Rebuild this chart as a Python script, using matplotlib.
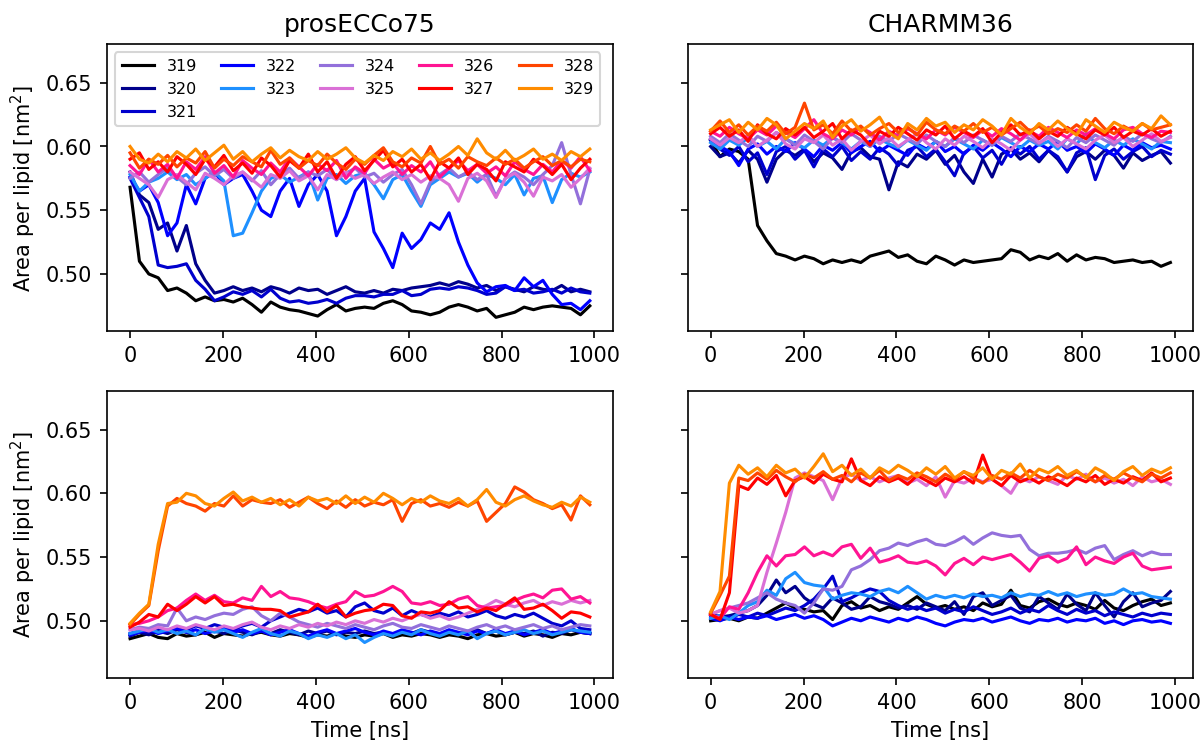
import matplotlib.pyplot as plt
import numpy as np

# time axis shared by all runs (ns)
time = np.linspace(0, 990, 50)

labels = ["319", "320", "321", "322", "323", "324", "325", "326", "327", "328", "329"]
colors = ["black", "darkblue", "mediumblue", "blue", "dodgerblue", "mediumpurple",
          "orchid", "deeppink", "red", "orangered", "darkorange"]

# prosECCo75, upper panel (one row per label)
pros_top = [
    [0.568, 0.510, 0.500, 0.497, 0.487, 0.489, 0.485, 0.479, 0.482, 0.479, 0.480, 0.478, 0.481, 0.476, 0.470, 0.478, 0.474, 0.472, 0.471, 0.469, 0.467, 0.472, 0.476, 0.471, 0.473, 0.474, 0.473, 0.477, 0.479, 0.476, 0.471, 0.470, 0.468, 0.470, 0.474, 0.476, 0.474, 0.471, 0.473, 0.466, 0.468, 0.470, 0.474, 0.472, 0.474, 0.475, 0.474, 0.473, 0.468, 0.475],
    [0.580, 0.562, 0.556, 0.535, 0.540, 0.518, 0.538, 0.508, 0.495, 0.485, 0.487, 0.490, 0.487, 0.489, 0.486, 0.490, 0.488, 0.485, 0.489, 0.487, 0.488, 0.484, 0.487, 0.490, 0.486, 0.485, 0.487, 0.485, 0.488, 0.487, 0.489, 0.490, 0.491, 0.493, 0.491, 0.494, 0.492, 0.489, 0.491, 0.487, 0.490, 0.488, 0.486, 0.490, 0.488, 0.487, 0.491, 0.486, 0.488, 0.486],
    [0.575, 0.560, 0.545, 0.507, 0.505, 0.506, 0.508, 0.495, 0.488, 0.479, 0.482, 0.486, 0.484, 0.487, 0.482, 0.488, 0.481, 0.478, 0.479, 0.477, 0.478, 0.480, 0.477, 0.481, 0.483, 0.483, 0.482, 0.484, 0.484, 0.487, 0.483, 0.484, 0.488, 0.489, 0.488, 0.490, 0.489, 0.487, 0.484, 0.485, 0.490, 0.487, 0.488, 0.485, 0.486, 0.488, 0.485, 0.489, 0.486, 0.485],
    [0.576, 0.565, 0.570, 0.556, 0.530, 0.540, 0.570, 0.555, 0.575, 0.580, 0.570, 0.575, 0.578, 0.565, 0.550, 0.545, 0.565, 0.575, 0.553, 0.570, 0.578, 0.565, 0.530, 0.545, 0.565, 0.575, 0.533, 0.520, 0.505, 0.532, 0.520, 0.527, 0.540, 0.535, 0.548, 0.525, 0.507, 0.493, 0.486, 0.490, 0.491, 0.487, 0.497, 0.490, 0.495, 0.484, 0.476, 0.477, 0.472, 0.479],
    [0.578, 0.565, 0.572, 0.575, 0.580, 0.574, 0.578, 0.570, 0.575, 0.580, 0.573, 0.530, 0.532, 0.548, 0.565, 0.575, 0.578, 0.572, 0.576, 0.580, 0.558, 0.575, 0.578, 0.571, 0.577, 0.579, 0.570, 0.559, 0.574, 0.578, 0.565, 0.553, 0.570, 0.575, 0.580, 0.576, 0.579, 0.572, 0.578, 0.575, 0.570, 0.578, 0.562, 0.575, 0.577, 0.556, 0.574, 0.579, 0.576, 0.580],
    [0.575, 0.580, 0.572, 0.578, 0.583, 0.576, 0.570, 0.579, 0.584, 0.577, 0.582, 0.575, 0.580, 0.573, 0.581, 0.570, 0.578, 0.583, 0.575, 0.580, 0.577, 0.582, 0.574, 0.579, 0.583, 0.576, 0.579, 0.572, 0.578, 0.582, 0.570, 0.555, 0.572, 0.578, 0.583, 0.576, 0.580, 0.574, 0.578, 0.561, 0.575, 0.580, 0.576, 0.570, 0.578, 0.585, 0.603, 0.578, 0.555, 0.582],
    [0.580, 0.575, 0.570, 0.560, 0.574, 0.578, 0.572, 0.566, 0.579, 0.575, 0.570, 0.577, 0.580, 0.574, 0.568, 0.578, 0.575, 0.581, 0.573, 0.577, 0.566, 0.578, 0.574, 0.580, 0.575, 0.578, 0.571, 0.576, 0.580, 0.574, 0.578, 0.572, 0.577, 0.575, 0.570, 0.557, 0.575, 0.579, 0.573, 0.560, 0.575, 0.579, 0.572, 0.561, 0.576, 0.573, 0.578, 0.568, 0.575, 0.583],
    [0.585, 0.578, 0.590, 0.580, 0.586, 0.575, 0.588, 0.582, 0.592, 0.579, 0.585, 0.576, 0.589, 0.583, 0.578, 0.587, 0.580, 0.591, 0.584, 0.577, 0.586, 0.581, 0.589, 0.575, 0.584, 0.579, 0.590, 0.583, 0.587, 0.578, 0.585, 0.580, 0.588, 0.576, 0.583, 0.589, 0.581, 0.586, 0.579, 0.584, 0.577, 0.588, 0.582, 0.578, 0.586, 0.580, 0.589, 0.583, 0.592, 0.581],
    [0.590, 0.595, 0.582, 0.588, 0.580, 0.592, 0.586, 0.578, 0.590, 0.584, 0.593, 0.581, 0.587, 0.579, 0.591, 0.585, 0.576, 0.589, 0.583, 0.594, 0.580, 0.588, 0.575, 0.586, 0.592, 0.581, 0.589, 0.597, 0.584, 0.590, 0.580, 0.586, 0.574, 0.588, 0.583, 0.591, 0.578, 0.586, 0.582, 0.573, 0.588, 0.584, 0.580, 0.590, 0.585, 0.578, 0.586, 0.574, 0.583, 0.590],
    [0.595, 0.583, 0.590, 0.586, 0.593, 0.584, 0.591, 0.587, 0.596, 0.583, 0.590, 0.585, 0.592, 0.588, 0.584, 0.597, 0.586, 0.591, 0.583, 0.589, 0.585, 0.594, 0.587, 0.582, 0.590, 0.586, 0.593, 0.599, 0.588, 0.584, 0.591, 0.587, 0.600, 0.586, 0.590, 0.583, 0.592, 0.588, 0.585, 0.591, 0.586, 0.590, 0.583, 0.588, 0.592, 0.585, 0.589, 0.584, 0.590, 0.588],
    [0.600, 0.590, 0.587, 0.594, 0.588, 0.596, 0.591, 0.598, 0.589, 0.595, 0.601, 0.590, 0.596, 0.588, 0.594, 0.599, 0.591, 0.597, 0.592, 0.589, 0.596, 0.590, 0.594, 0.599, 0.591, 0.587, 0.593, 0.589, 0.596, 0.592, 0.598, 0.590, 0.595, 0.589, 0.594, 0.600, 0.593, 0.606, 0.595, 0.590, 0.597, 0.589, 0.593, 0.598, 0.590, 0.594, 0.589, 0.596, 0.592, 0.598],
]

# CHARMM36, upper panel
charmm_top = [
    [0.605, 0.592, 0.598, 0.596, 0.590, 0.538, 0.526, 0.516, 0.514, 0.511, 0.514, 0.512, 0.508, 0.511, 0.509, 0.511, 0.509, 0.514, 0.516, 0.518, 0.513, 0.515, 0.510, 0.508, 0.514, 0.511, 0.507, 0.511, 0.509, 0.510, 0.511, 0.512, 0.519, 0.517, 0.511, 0.514, 0.512, 0.516, 0.510, 0.515, 0.511, 0.513, 0.512, 0.509, 0.510, 0.511, 0.509, 0.510, 0.506, 0.509],
    [0.600, 0.592, 0.595, 0.587, 0.597, 0.590, 0.572, 0.590, 0.597, 0.593, 0.598, 0.588, 0.595, 0.591, 0.582, 0.596, 0.599, 0.592, 0.590, 0.566, 0.588, 0.584, 0.594, 0.590, 0.597, 0.586, 0.593, 0.580, 0.571, 0.590, 0.576, 0.594, 0.598, 0.590, 0.595, 0.588, 0.597, 0.590, 0.580, 0.592, 0.596, 0.590, 0.597, 0.593, 0.583, 0.595, 0.589, 0.593, 0.596, 0.587],
    [0.605, 0.598, 0.593, 0.600, 0.588, 0.595, 0.578, 0.596, 0.600, 0.590, 0.597, 0.584, 0.598, 0.592, 0.600, 0.589, 0.596, 0.590, 0.599, 0.594, 0.585, 0.597, 0.600, 0.592, 0.598, 0.588, 0.577, 0.595, 0.600, 0.591, 0.597, 0.586, 0.599, 0.594, 0.600, 0.590, 0.597, 0.592, 0.580, 0.595, 0.599, 0.574, 0.593, 0.598, 0.590, 0.596, 0.600, 0.592, 0.597, 0.594],
    [0.606, 0.600, 0.596, 0.585, 0.598, 0.602, 0.594, 0.600, 0.596, 0.603, 0.598, 0.592, 0.601, 0.597, 0.603, 0.595, 0.600, 0.604, 0.596, 0.601, 0.597, 0.593, 0.602, 0.598, 0.604, 0.596, 0.600, 0.594, 0.601, 0.597, 0.603, 0.598, 0.592, 0.600, 0.596, 0.602, 0.598, 0.604, 0.597, 0.600, 0.595, 0.602, 0.598, 0.593, 0.601, 0.597, 0.603, 0.599, 0.601, 0.598],
    [0.603, 0.598, 0.605, 0.601, 0.607, 0.600, 0.604, 0.598, 0.606, 0.602, 0.599, 0.605, 0.601, 0.607, 0.603, 0.598, 0.604, 0.600, 0.606, 0.602, 0.599, 0.605, 0.601, 0.597, 0.604, 0.600, 0.606, 0.602, 0.598, 0.605, 0.601, 0.607, 0.603, 0.599, 0.605, 0.601, 0.604, 0.598, 0.606, 0.602, 0.610, 0.603, 0.599, 0.605, 0.601, 0.606, 0.602, 0.598, 0.604, 0.603],
    [0.608, 0.603, 0.610, 0.605, 0.600, 0.608, 0.604, 0.611, 0.606, 0.601, 0.609, 0.604, 0.598, 0.607, 0.603, 0.610, 0.605, 0.600, 0.608, 0.604, 0.610, 0.606, 0.602, 0.609, 0.604, 0.600, 0.607, 0.603, 0.609, 0.605, 0.601, 0.608, 0.604, 0.610, 0.606, 0.602, 0.608, 0.604, 0.599, 0.607, 0.603, 0.609, 0.605, 0.601, 0.608, 0.604, 0.610, 0.606, 0.603, 0.608],
    [0.606, 0.601, 0.607, 0.603, 0.609, 0.600, 0.605, 0.611, 0.602, 0.598, 0.606, 0.603, 0.609, 0.601, 0.606, 0.597, 0.604, 0.609, 0.602, 0.607, 0.600, 0.605, 0.610, 0.603, 0.598, 0.606, 0.601, 0.608, 0.604, 0.599, 0.606, 0.602, 0.597, 0.605, 0.610, 0.603, 0.607, 0.600, 0.606, 0.602, 0.598, 0.605, 0.609, 0.603, 0.607, 0.600, 0.605, 0.610, 0.604, 0.607],
    [0.612, 0.608, 0.615, 0.610, 0.606, 0.613, 0.609, 0.616, 0.611, 0.607, 0.614, 0.621, 0.610, 0.606, 0.613, 0.609, 0.615, 0.611, 0.605, 0.612, 0.608, 0.614, 0.610, 0.606, 0.613, 0.609, 0.615, 0.611, 0.607, 0.613, 0.608, 0.614, 0.610, 0.605, 0.612, 0.608, 0.615, 0.611, 0.607, 0.613, 0.609, 0.614, 0.610, 0.606, 0.613, 0.615, 0.610, 0.607, 0.612, 0.611],
    [0.610, 0.615, 0.608, 0.613, 0.604, 0.617, 0.610, 0.606, 0.614, 0.609, 0.615, 0.607, 0.612, 0.618, 0.606, 0.613, 0.609, 0.601, 0.612, 0.608, 0.615, 0.610, 0.605, 0.613, 0.609, 0.616, 0.606, 0.612, 0.608, 0.614, 0.603, 0.611, 0.617, 0.609, 0.613, 0.606, 0.612, 0.608, 0.615, 0.610, 0.606, 0.613, 0.609, 0.615, 0.607, 0.612, 0.609, 0.614, 0.608, 0.612],
    [0.612, 0.620, 0.611, 0.617, 0.609, 0.616, 0.612, 0.619, 0.610, 0.615, 0.634, 0.613, 0.617, 0.610, 0.620, 0.612, 0.616, 0.609, 0.614, 0.618, 0.611, 0.615, 0.609, 0.619, 0.613, 0.610, 0.616, 0.612, 0.618, 0.611, 0.615, 0.609, 0.614, 0.619, 0.612, 0.616, 0.610, 0.614, 0.611, 0.617, 0.612, 0.622, 0.614, 0.610, 0.616, 0.612, 0.618, 0.613, 0.615, 0.617],
    [0.613, 0.617, 0.621, 0.611, 0.619, 0.613, 0.622, 0.617, 0.606, 0.612, 0.618, 0.614, 0.620, 0.607, 0.616, 0.621, 0.612, 0.617, 0.623, 0.611, 0.606, 0.618, 0.613, 0.622, 0.616, 0.619, 0.611, 0.617, 0.613, 0.621, 0.616, 0.609, 0.622, 0.615, 0.610, 0.618, 0.613, 0.620, 0.614, 0.609, 0.621, 0.616, 0.611, 0.619, 0.615, 0.612, 0.618, 0.614, 0.624, 0.617],
]

# prosECCo75, lower panel
pros_bottom = [
    [0.486, 0.488, 0.490, 0.487, 0.486, 0.490, 0.488, 0.489, 0.491, 0.487, 0.490, 0.489, 0.488, 0.490, 0.491, 0.489, 0.488, 0.490, 0.489, 0.487, 0.489, 0.488, 0.490, 0.488, 0.487, 0.489, 0.488, 0.490, 0.487, 0.489, 0.488, 0.490, 0.489, 0.487, 0.489, 0.488, 0.486, 0.489, 0.490, 0.488, 0.489, 0.491, 0.488, 0.490, 0.489, 0.487, 0.490, 0.489, 0.491, 0.490],
    [0.488, 0.491, 0.489, 0.492, 0.490, 0.493, 0.491, 0.489, 0.494, 0.492, 0.490, 0.493, 0.491, 0.489, 0.492, 0.490, 0.493, 0.491, 0.489, 0.492, 0.490, 0.492, 0.489, 0.491, 0.490, 0.492, 0.490, 0.491, 0.489, 0.492, 0.490, 0.493, 0.491, 0.489, 0.492, 0.490, 0.491, 0.493, 0.490, 0.492, 0.489, 0.491, 0.490, 0.492, 0.488, 0.491, 0.490, 0.493, 0.491, 0.490],
    [0.490, 0.492, 0.491, 0.494, 0.492, 0.495, 0.493, 0.496, 0.494, 0.497, 0.495, 0.493, 0.496, 0.498, 0.495, 0.500, 0.503, 0.506, 0.509, 0.507, 0.510, 0.506, 0.508, 0.503, 0.511, 0.514, 0.508, 0.506, 0.510, 0.504, 0.508, 0.505, 0.503, 0.506, 0.504, 0.507, 0.503, 0.505, 0.508, 0.504, 0.502, 0.505, 0.503, 0.506, 0.502, 0.498, 0.496, 0.500, 0.494, 0.493],
    [0.489, 0.491, 0.493, 0.490, 0.492, 0.494, 0.491, 0.493, 0.490, 0.492, 0.494, 0.491, 0.493, 0.490, 0.492, 0.489, 0.491, 0.493, 0.490, 0.488, 0.491, 0.493, 0.490, 0.492, 0.494, 0.491, 0.489, 0.492, 0.490, 0.493, 0.491, 0.489, 0.492, 0.490, 0.493, 0.491, 0.489, 0.492, 0.490, 0.493, 0.490, 0.492, 0.489, 0.491, 0.493, 0.490, 0.492, 0.494, 0.491, 0.490],
    [0.490, 0.492, 0.494, 0.491, 0.493, 0.490, 0.492, 0.489, 0.494, 0.491, 0.493, 0.490, 0.487, 0.491, 0.494, 0.490, 0.488, 0.492, 0.490, 0.486, 0.489, 0.487, 0.490, 0.486, 0.489, 0.483, 0.487, 0.490, 0.488, 0.491, 0.489, 0.493, 0.490, 0.488, 0.491, 0.489, 0.492, 0.486, 0.490, 0.492, 0.489, 0.491, 0.493, 0.490, 0.492, 0.489, 0.491, 0.493, 0.492, 0.491],
    [0.493, 0.495, 0.494, 0.497, 0.496, 0.510, 0.500, 0.503, 0.501, 0.504, 0.506, 0.505, 0.509, 0.511, 0.504, 0.500, 0.506, 0.503, 0.499, 0.497, 0.495, 0.498, 0.496, 0.494, 0.497, 0.495, 0.493, 0.496, 0.498, 0.495, 0.494, 0.497, 0.495, 0.493, 0.496, 0.494, 0.492, 0.495, 0.497, 0.494, 0.496, 0.493, 0.495, 0.497, 0.494, 0.496, 0.493, 0.495, 0.497, 0.496],
    [0.493, 0.494, 0.492, 0.495, 0.493, 0.496, 0.494, 0.497, 0.495, 0.493, 0.496, 0.494, 0.497, 0.499, 0.495, 0.493, 0.496, 0.494, 0.497, 0.495, 0.498, 0.496, 0.499, 0.497, 0.500, 0.498, 0.501, 0.499, 0.502, 0.500, 0.503, 0.505, 0.502, 0.504, 0.501, 0.503, 0.506, 0.509, 0.512, 0.516, 0.513, 0.511, 0.514, 0.516, 0.512, 0.515, 0.513, 0.516, 0.514, 0.516],
    [0.497, 0.498, 0.500, 0.503, 0.508, 0.510, 0.516, 0.521, 0.516, 0.520, 0.515, 0.514, 0.518, 0.516, 0.527, 0.519, 0.523, 0.518, 0.517, 0.515, 0.512, 0.510, 0.513, 0.515, 0.523, 0.519, 0.520, 0.523, 0.527, 0.523, 0.514, 0.513, 0.515, 0.512, 0.513, 0.517, 0.519, 0.512, 0.510, 0.511, 0.512, 0.516, 0.519, 0.521, 0.518, 0.524, 0.525, 0.517, 0.519, 0.514],
    [0.495, 0.499, 0.505, 0.503, 0.513, 0.508, 0.513, 0.519, 0.514, 0.519, 0.512, 0.513, 0.511, 0.510, 0.509, 0.509, 0.508, 0.503, 0.505, 0.507, 0.513, 0.507, 0.512, 0.503, 0.506, 0.508, 0.509, 0.513, 0.512, 0.504, 0.502, 0.507, 0.506, 0.508, 0.515, 0.510, 0.511, 0.507, 0.510, 0.508, 0.513, 0.518, 0.509, 0.510, 0.513, 0.508, 0.502, 0.507, 0.506, 0.503],
    [0.497, 0.505, 0.512, 0.555, 0.590, 0.596, 0.592, 0.590, 0.586, 0.592, 0.590, 0.598, 0.590, 0.595, 0.593, 0.592, 0.595, 0.589, 0.593, 0.597, 0.592, 0.588, 0.594, 0.589, 0.595, 0.590, 0.593, 0.591, 0.595, 0.578, 0.592, 0.595, 0.590, 0.592, 0.589, 0.593, 0.590, 0.594, 0.578, 0.585, 0.592, 0.605, 0.601, 0.595, 0.592, 0.588, 0.591, 0.579, 0.598, 0.591],
    [0.498, 0.506, 0.513, 0.560, 0.592, 0.593, 0.600, 0.598, 0.592, 0.590, 0.596, 0.601, 0.594, 0.597, 0.593, 0.596, 0.591, 0.595, 0.590, 0.597, 0.594, 0.596, 0.592, 0.598, 0.592, 0.597, 0.593, 0.600, 0.596, 0.591, 0.596, 0.593, 0.598, 0.594, 0.592, 0.596, 0.590, 0.595, 0.603, 0.593, 0.590, 0.595, 0.598, 0.594, 0.591, 0.589, 0.593, 0.590, 0.597, 0.593],
]

# CHARMM36, lower panel
charmm_bottom = [
    [0.500, 0.501, 0.502, 0.500, 0.503, 0.502, 0.506, 0.510, 0.514, 0.510, 0.509, 0.507, 0.508, 0.501, 0.512, 0.515, 0.510, 0.512, 0.508, 0.511, 0.509, 0.514, 0.519, 0.513, 0.510, 0.512, 0.509, 0.511, 0.508, 0.514, 0.511, 0.513, 0.524, 0.512, 0.510, 0.515, 0.517, 0.513, 0.511, 0.514, 0.512, 0.509, 0.516, 0.510, 0.508, 0.512, 0.515, 0.517, 0.512, 0.514],
    [0.505, 0.503, 0.504, 0.506, 0.508, 0.512, 0.520, 0.532, 0.522, 0.527, 0.518, 0.513, 0.510, 0.518, 0.514, 0.509, 0.511, 0.519, 0.515, 0.513, 0.510, 0.512, 0.509, 0.514, 0.511, 0.508, 0.515, 0.505, 0.519, 0.522, 0.512, 0.516, 0.520, 0.510, 0.507, 0.519, 0.514, 0.509, 0.521, 0.513, 0.508, 0.522, 0.512, 0.503, 0.515, 0.522, 0.511, 0.514, 0.516, 0.523],
    [0.503, 0.504, 0.502, 0.505, 0.503, 0.506, 0.504, 0.507, 0.510, 0.508, 0.512, 0.517, 0.525, 0.535, 0.515, 0.518, 0.522, 0.525, 0.523, 0.516, 0.512, 0.509, 0.511, 0.508, 0.510, 0.506, 0.509, 0.507, 0.511, 0.508, 0.505, 0.507, 0.510, 0.506, 0.509, 0.507, 0.512, 0.508, 0.505, 0.509, 0.506, 0.508, 0.504, 0.507, 0.505, 0.503, 0.506, 0.504, 0.506, 0.505],
    [0.502, 0.500, 0.503, 0.501, 0.503, 0.502, 0.504, 0.501, 0.503, 0.505, 0.502, 0.504, 0.501, 0.496, 0.499, 0.502, 0.500, 0.503, 0.501, 0.499, 0.502, 0.500, 0.503, 0.501, 0.498, 0.496, 0.499, 0.501, 0.500, 0.502, 0.499, 0.501, 0.503, 0.500, 0.498, 0.501, 0.500, 0.502, 0.499, 0.501, 0.500, 0.502, 0.498, 0.500, 0.497, 0.500, 0.501, 0.499, 0.500, 0.498],
    [0.502, 0.504, 0.501, 0.506, 0.512, 0.515, 0.524, 0.520, 0.533, 0.538, 0.530, 0.528, 0.527, 0.517, 0.520, 0.522, 0.521, 0.519, 0.523, 0.525, 0.522, 0.527, 0.522, 0.517, 0.520, 0.518, 0.520, 0.518, 0.521, 0.519, 0.520, 0.518, 0.522, 0.519, 0.521, 0.520, 0.523, 0.520, 0.522, 0.519, 0.521, 0.522, 0.520, 0.521, 0.525, 0.521, 0.522, 0.519, 0.518, 0.517],
    [0.505, 0.508, 0.510, 0.512, 0.514, 0.518, 0.522, 0.517, 0.514, 0.512, 0.506, 0.514, 0.525, 0.524, 0.527, 0.540, 0.543, 0.548, 0.555, 0.557, 0.561, 0.559, 0.562, 0.564, 0.560, 0.559, 0.562, 0.566, 0.560, 0.565, 0.569, 0.567, 0.566, 0.567, 0.556, 0.551, 0.553, 0.553, 0.554, 0.556, 0.553, 0.557, 0.559, 0.548, 0.552, 0.555, 0.551, 0.554, 0.552, 0.552],
    [0.505, 0.508, 0.510, 0.506, 0.508, 0.512, 0.538, 0.561, 0.585, 0.612, 0.616, 0.613, 0.610, 0.595, 0.612, 0.615, 0.610, 0.613, 0.609, 0.612, 0.614, 0.608, 0.611, 0.606, 0.613, 0.597, 0.610, 0.608, 0.612, 0.609, 0.611, 0.606, 0.600, 0.612, 0.609, 0.613, 0.610, 0.607, 0.614, 0.611, 0.615, 0.609, 0.612, 0.608, 0.611, 0.606, 0.613, 0.609, 0.611, 0.607],
    [0.505, 0.502, 0.511, 0.509, 0.522, 0.538, 0.551, 0.543, 0.551, 0.552, 0.558, 0.551, 0.554, 0.551, 0.558, 0.560, 0.549, 0.557, 0.546, 0.548, 0.551, 0.546, 0.545, 0.547, 0.543, 0.536, 0.545, 0.549, 0.544, 0.550, 0.548, 0.550, 0.552, 0.546, 0.539, 0.549, 0.551, 0.546, 0.549, 0.558, 0.544, 0.550, 0.547, 0.545, 0.550, 0.553, 0.543, 0.540, 0.541, 0.542],
    [0.505, 0.501, 0.522, 0.606, 0.603, 0.612, 0.607, 0.614, 0.598, 0.610, 0.613, 0.608, 0.615, 0.611, 0.609, 0.627, 0.610, 0.606, 0.613, 0.609, 0.612, 0.607, 0.614, 0.610, 0.606, 0.612, 0.609, 0.613, 0.608, 0.630, 0.611, 0.606, 0.614, 0.609, 0.612, 0.608, 0.613, 0.610, 0.606, 0.612, 0.609, 0.614, 0.607, 0.611, 0.608, 0.613, 0.610, 0.616, 0.609, 0.612],
    [0.506, 0.520, 0.535, 0.612, 0.610, 0.616, 0.611, 0.618, 0.613, 0.609, 0.615, 0.612, 0.617, 0.611, 0.614, 0.609, 0.616, 0.612, 0.618, 0.610, 0.614, 0.611, 0.616, 0.613, 0.609, 0.615, 0.611, 0.617, 0.612, 0.608, 0.614, 0.611, 0.616, 0.612, 0.618, 0.613, 0.610, 0.615, 0.612, 0.617, 0.613, 0.609, 0.614, 0.611, 0.616, 0.612, 0.609, 0.615, 0.612, 0.616],
    [0.507, 0.523, 0.608, 0.622, 0.615, 0.620, 0.613, 0.622, 0.616, 0.619, 0.612, 0.621, 0.631, 0.617, 0.622, 0.614, 0.619, 0.612, 0.620, 0.616, 0.622, 0.618, 0.613, 0.620, 0.615, 0.621, 0.612, 0.617, 0.614, 0.620, 0.611, 0.618, 0.615, 0.623, 0.612, 0.619, 0.616, 0.621, 0.614, 0.618, 0.612, 0.620, 0.616, 0.610, 0.617, 0.621, 0.614, 0.619, 0.616, 0.620],
]

fig, axes = plt.subplots(2, 2, sharey=True, figsize=(8.02, 4.947), dpi=150)

panels = [pros_top, charmm_top, pros_bottom, charmm_bottom]
for ax, panel in zip(axes.flat, panels):
    for lab, col, vals in zip(labels, colors, panel):
        ax.plot(time, vals, color=col, label=lab, linewidth=1.5)

axes[0, 0].set_ylim(0.455, 0.68)
axes[0, 0].set_title("prosECCo75")
axes[0, 1].set_title("CHARMM36")
for ax in axes[:, 0]:
    ax.set_ylabel("Area per lipid [nm$^2$]")
for ax in axes[1, :]:
    ax.set_xlabel("Time [ns]")

axes[0, 0].legend(ncol=5, fontsize=7.7, loc="upper left", columnspacing=1.5)

plt.subplots_adjust(left=0.089, right=0.992, top=0.940, bottom=0.086, wspace=0.148, hspace=0.209)
plt.savefig("out.png")
